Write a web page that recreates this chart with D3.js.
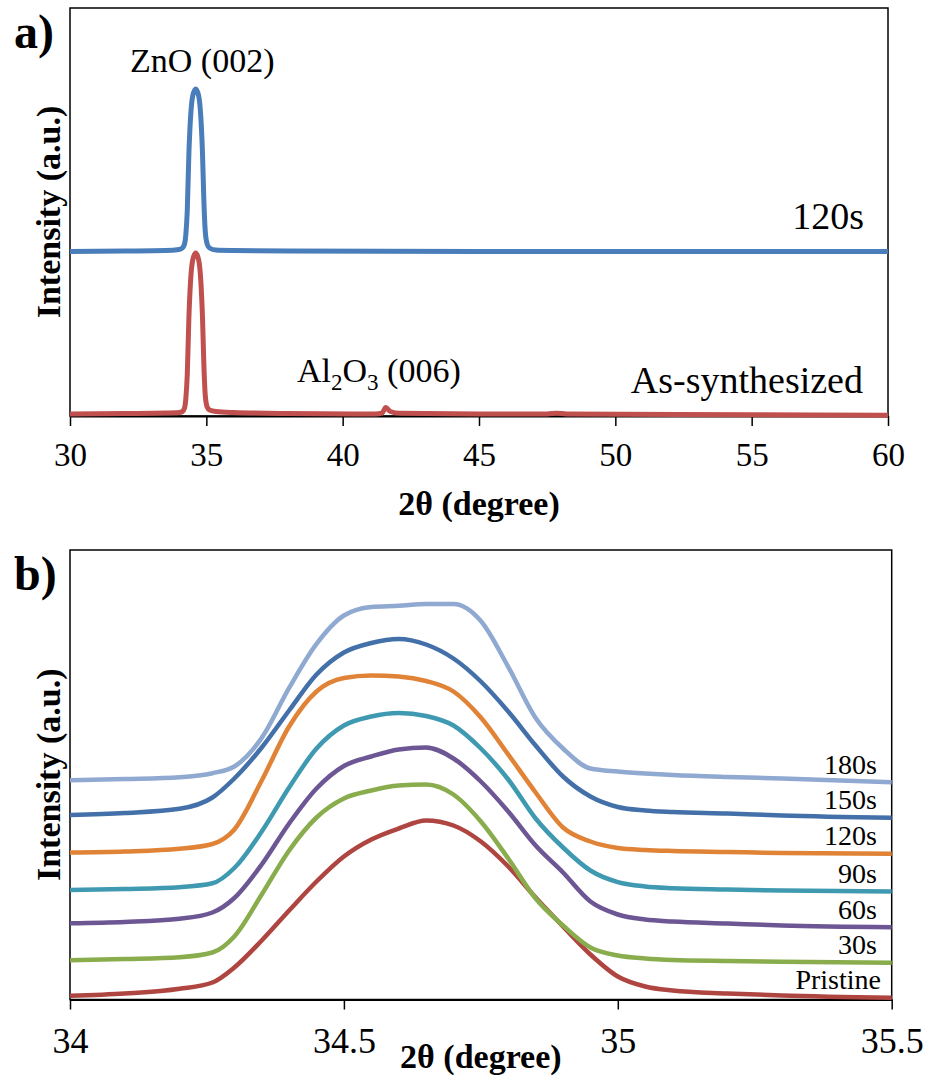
<!DOCTYPE html>
<html>
<head>
<meta charset="utf-8">
<script src="https://cdn.jsdelivr.net/npm/d3@7"></script>
<style>
  body { margin: 0; background: #fff; }
  svg text { font-family: "Liberation Serif", "Times New Roman", serif; fill: #000; }
</style>
</head>
<body>
<svg id="chart" width="925" height="1077"></svg>
<script>
// ---- DATA ----

// panel a) : wide scan, [2theta, intensity a.u.]
const ticksA = [30, 35, 40, 45, 50, 55, 60];

const scan120s = [
  [30, 164.5], [32, 165], [33.5, 165.5], [34.0, 166.5], [34.12, 168], [34.2, 172],
  [34.25, 182], [34.3, 205], [34.36, 262], [34.42, 298], [34.5, 320], [34.61, 327],
  [34.72, 320], [34.8, 298], [34.86, 262], [34.91, 215], [34.96, 185], [35.03, 172],
  [35.12, 168], [35.35, 166], [36, 165.5], [38, 165], [45, 164.5], [60, 164.5]
];

const scanAsSynth = [
  [30, 2], [32, 2.5], [33.5, 3], [34.0, 3.5], [34.12, 4.5], [34.2, 8],
  [34.25, 18], [34.3, 41], [34.36, 98], [34.42, 134], [34.5, 156], [34.61, 163],
  [34.72, 156], [34.8, 134], [34.86, 98], [34.91, 51], [34.96, 21], [35.03, 9],
  [35.12, 6], [35.35, 4.5], [36, 3.5], [38, 2.5], [41.2, 2], [41.45, 3], [41.58, 8.5],
  [41.75, 4.5], [42.1, 2.7], [45, 2], [47.5, 2], [47.85, 2.8], [48.2, 2], [55, 1.2], [60, 0.7]
];

// panel b) : ZnO (002) zoom, shared 2theta grid
const ticksB = [34, 34.5, 35, 35.5];

const thetaB = [34.00, 34.10, 34.20, 34.26, 34.30, 34.35, 34.40, 34.45, 34.50, 34.55, 34.60, 34.65,
                34.70, 34.75, 34.80, 34.85, 34.90, 34.95, 35.00, 35.05, 35.10, 35.20, 35.30, 35.50];

const i180s = [219.2, 220.5, 222.3, 226.3, 233, 261.6, 311.6, 355.6, 384, 392.5, 393.7, 395.5,
               395.5, 378.5, 332.7, 281.5, 251, 231, 228, 226, 224.5, 222.5, 221, 217.3];
const i150s = [184.6, 186.5, 190.7, 202, 221, 252, 289, 325, 347, 356.5, 360.5, 355,
               341, 318, 288, 254, 223, 203, 192.5, 189, 187.5, 186, 184, 181.7];
const i120s = [147, 148, 150.7, 155.5, 170, 219, 273, 308, 321.5, 324, 323, 318.5,
               308, 282, 245, 207, 172, 158, 151.5, 149.5, 148.5, 147.5, 146.5, 145.7];
const i90s  = [109.4, 110.5, 112.3, 116.2, 131.5, 168, 212, 251, 274, 283, 286.5, 283.5,
               274, 251, 220, 181, 152, 129, 117.4, 113, 111.3, 110, 109, 108];
const i60s  = [76.2, 77.5, 80.7, 87, 101.5, 135, 176, 211, 233.5, 243, 250, 252,
               241, 218, 188, 154, 127, 98, 85, 80, 78, 76, 74, 72.3];
const i30s  = [39.3, 40.5, 42.3, 47, 63, 105, 149, 182, 201, 209, 214, 215,
               205, 178, 141, 101, 74, 52, 44, 41, 39.5, 38.5, 37.7, 36.7];
const iPristine = [3.7, 6, 10.7, 17, 32, 59, 89, 118, 143, 160, 171, 179,
                   174, 158, 133, 102, 73, 45, 23, 13, 9, 6, 4, 1.7];

const namesB = ["180s", "150s", "120s", "90s", "60s", "30s", "Pristine"];
const colorsB = ["#8fa9d1", "#4470aa", "#e08336", "#3f9ab1", "#6c5693", "#89ad4c", "#af4541"];

// ---- DRAW ----

const svg = d3.select("#chart");

function frame(g, x, y, xTicks, fontSize, fmt) {
  let [x0, x1] = x.range();
  let [y0, y1] = y.range();
  g.append("rect")
    .attr("x", x0).attr("y", y1)
    .attr("width", x1 - x0).attr("height", y0 - y1)
    .attr("fill", "none").attr("stroke", "#000").attr("stroke-width", 1.5);

  let axis = d3.axisBottom(x).tickValues(xTicks).tickSize(10).tickSizeOuter(0).tickFormat(fmt);
  let ax = g.append("g")
    .attr("transform", "translate(0," + y0 + ")")
    .call(axis);
  ax.select(".domain").attr("stroke-width", 2);
  ax.selectAll(".tick line").attr("stroke-width", 1.5);
  ax.selectAll(".tick text")
    .attr("font-size", fontSize)
    .attr("fill", "#000")
    .attr("dy", null)
    .attr("y", fontSize + 17);
}

function titles(g, x, y, lab, xTitleGap) {
  let [x0, x1] = x.range();
  let [y0, y1] = y.range();
  g.append("text")
    .attr("x", (x0 + x1) / 2).attr("y", y0 + xTitleGap)
    .attr("text-anchor", "middle")
    .attr("font-size", 34).attr("font-weight", "bold")
    .text("2θ (degree)");
  g.append("text")
    .attr("transform", "translate(" + (x0 - 10) + "," + ((y0 + y1) / 2) + ") rotate(-90)")
    .attr("text-anchor", "middle")
    .attr("font-size", 34).attr("font-weight", "bold")
    .text("Intensity (a.u.)");
  g.append("text")
    .attr("x", x0 - 56).attr("y", y1 + 40)
    .attr("font-size", 48).attr("font-weight", "bold")
    .text(lab);
}

// panel a
let xA = d3.scaleLinear().domain([30, 60]).range([70, 888]);
let yA = d3.scaleLinear().domain([0, 408]).range([416, 8]);
let gA = svg.append("g");

frame(gA, xA, yA, ticksA, 33, d3.format("d"));

let lineA = d3.line()
  .x(d => xA(d[0]))
  .y(d => yA(d[1]))
  .curve(d3.curveMonotoneX);

gA.append("path").attr("d", lineA(scanAsSynth))
  .attr("fill", "none").attr("stroke", "#c0504d").attr("stroke-width", 5);
gA.append("path").attr("d", lineA(scan120s))
  .attr("fill", "none").attr("stroke", "#4a7ebb").attr("stroke-width", 5);

titles(gA, xA, yA, "a)", 99);

gA.append("text").attr("x", 130).attr("y", 72)
  .attr("font-size", 34).text("ZnO (002)");
gA.append("text").attr("x", 864).attr("y", yA(scan120s[scan120s.length - 1][1]) - 23)
  .attr("text-anchor", "end").attr("font-size", 38).text("120s");
gA.append("text").attr("x", 863).attr("y", 393)
  .attr("text-anchor", "end").attr("font-size", 38).text("As-synthesized");

let al = gA.append("text").attr("x", 297).attr("y", 382).attr("font-size", 34);
al.append("tspan").text("Al");
al.append("tspan").attr("font-size", 23).attr("dy", 8).text("2");
al.append("tspan").attr("dy", -8).text("O");
al.append("tspan").attr("font-size", 23).attr("dy", 8).text("3");
al.append("tspan").attr("dy", -8).text(" (006)");

// panel b
let xB = d3.scaleLinear().domain([34, 35.5]).range([70, 891.7]);
let yB = d3.scaleLinear().domain([0, 449.5]).range([999.5, 550]);
let gB = svg.append("g");

frame(gB, xB, yB, ticksB, 36, d => d);

let seriesB = [i180s, i150s, i120s, i90s, i60s, i30s, iPristine];
let lineB = d3.line()
  .x((d, i) => xB(thetaB[i]))
  .y(d => yB(d))
  .curve(d3.curveMonotoneX);

// bottom series first so upper ones sit on top, like the original
for (let k = seriesB.length - 1; k >= 0; k--) {
  gB.append("path").attr("d", lineB(seriesB[k]))
    .attr("fill", "none").attr("stroke", colorsB[k]).attr("stroke-width", 4.5);
}

seriesB.forEach((s, k) => {
  gB.append("text")
    .attr("x", namesB[k] == "Pristine" ? 881 : 877)
    .attr("y", yB(s[s.length - 1]) - 8.5)
    .attr("text-anchor", "end")
    .attr("font-size", 28)
    .text(namesB[k]);
});

titles(gB, xB, yB, "b)", 68.5);
</script>
</body>
</html>
